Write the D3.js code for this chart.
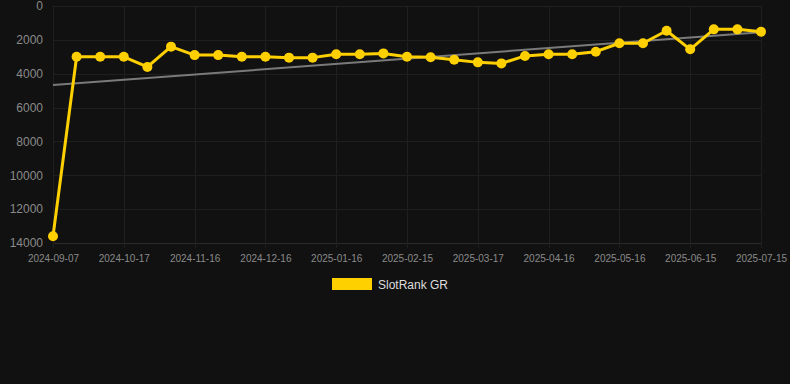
<!DOCTYPE html>
<html><head><meta charset="utf-8">
<script src="https://cdn.jsdelivr.net/npm/d3@7"></script>
<style>html,body{margin:0;padding:0;background:#111111;}svg{display:block;}</style>
</head><body>
<svg id="chart" width="790" height="384"></svg>
<script>
const dates = ["2024-09-07","2024-09-27","2024-10-07","2024-10-17","2024-10-27","2024-11-06","2024-11-16","2024-11-26","2024-12-06","2024-12-16","2024-12-26","2025-01-06","2025-01-16","2025-01-26","2025-02-05","2025-02-15","2025-02-25","2025-03-07","2025-03-17","2025-03-27","2025-04-06","2025-04-16","2025-04-26","2025-05-06","2025-05-16","2025-05-26","2025-06-05","2025-06-15","2025-06-25","2025-07-05","2025-07-15"];
const ranks = [13600,3000,3000,3000,3600,2400,2900,2900,3000,3000,3050,3050,2850,2850,2800,3000,3030,3170,3330,3390,2950,2850,2850,2700,2200,2200,1460,2560,1380,1380,1520];
const trendEnds = [4670,1550];
const yTicks = [0,2000,4000,6000,8000,10000,12000,14000];
const xTickLabels = ["2024-09-07","2024-10-17","2024-11-16","2024-12-16","2025-01-16","2025-02-15","2025-03-17","2025-04-16","2025-05-16","2025-06-15","2025-07-15"];
const seriesName = "SlotRank GR";

(function () {
const svg = d3.select("#chart");
const pL = 53, pR = 761, pT = 6, pB = 243;
const x = d3.scalePoint().domain(dates).range([pL, pR]);
const y = d3.scaleLinear().domain([0, 14000]).range([pT, pB]);
const font = "Liberation Sans, Arial, Helvetica, sans-serif";

// grid
svg.append("g").selectAll("line").data(yTicks).join("line")
  .attr("x1", pL).attr("x2", pR).attr("y1", d => Math.round(y(d))+0.5).attr("y2", d => Math.round(y(d))+0.5)
  .attr("stroke", d => d === 14000 ? "#2a2a2a" : "#1f1f1f").attr("stroke-width", 1);
svg.append("g").selectAll("line").data(xTickLabels).join("line")
  .attr("x1", d => Math.round(x(d))+0.5).attr("x2", d => Math.round(x(d))+0.5).attr("y1", pT).attr("y2", pB+5)
  .attr("stroke", "#1f1f1f").attr("stroke-width", 1);

// y axis labels
const yAxis = d3.axisLeft(y).tickValues(yTicks).tickSize(0).tickPadding(0).tickFormat(d3.format("d"));
const gy = svg.append("g").attr("transform", `translate(${pL-10},0)`).call(yAxis);
gy.select(".domain").remove();
gy.selectAll("text").attr("fill", "#8a8a8a").style("font", `12px ${font}`);

// x axis labels
const xAxis = d3.axisBottom(x).tickValues(xTickLabels).tickSize(0).tickPadding(0);
const gx = svg.append("g").attr("transform", `translate(0,${pB+12})`).call(xAxis);
gx.select(".domain").remove();
gx.selectAll("text").attr("fill", "#8a8a8a").style("font", `10px ${font}`);

// trend line
svg.append("line")
  .attr("x1", x(dates[0])).attr("y1", y(trendEnds[0]))
  .attr("x2", x(dates[dates.length-1])).attr("y2", y(trendEnds[1]))
  .attr("stroke", "#7a7a7a").attr("stroke-width", 2);

// series line
const line = d3.line().x((d,i) => x(dates[i])).y(d => y(d));
svg.append("path").datum(ranks).attr("d", line)
  .attr("fill", "none").attr("stroke", "#FFD000").attr("stroke-width", 3).attr("stroke-linejoin", "round");
svg.append("g").selectAll("circle").data(ranks).join("circle")
  .attr("cx", (d,i) => x(dates[i])).attr("cy", d => y(d)).attr("r", 5)
  .attr("fill", "#FFD000");

// legend
const lg = svg.append("g");
lg.append("rect").attr("x", 332).attr("y", 278).attr("width", 40).attr("height", 12).attr("fill", "#FFD000");
lg.append("text").attr("x", 378).attr("y", 288.5).text(seriesName)
  .attr("fill", "#dddddd").style("font", `12px ${font}`);
})();
</script>
</body></html>
